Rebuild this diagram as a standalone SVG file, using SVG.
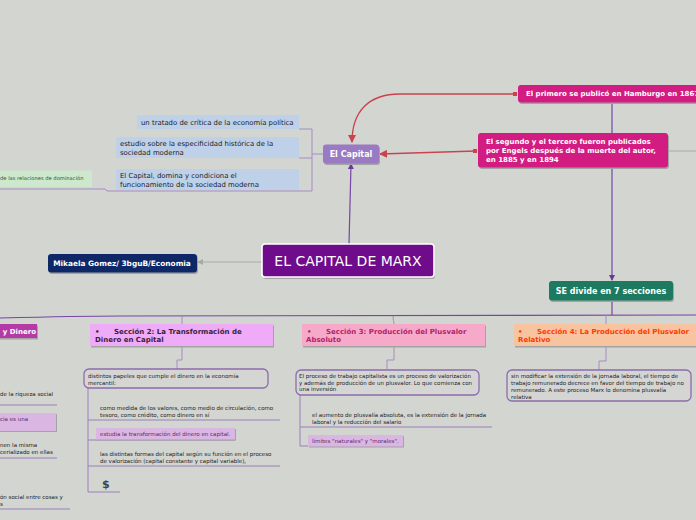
<svg xmlns="http://www.w3.org/2000/svg" width="696" height="520" viewBox="0 0 696 520">
<defs>
<marker id="arrP" markerWidth="6" markerHeight="6" refX="5" refY="3" orient="auto" markerUnits="userSpaceOnUse"><path d="M0,0 L6,3 L0,6 Z" fill="#6a3a98"/></marker>
<marker id="arrR" markerWidth="8" markerHeight="8" refX="7" refY="4" orient="auto" markerUnits="userSpaceOnUse"><path d="M0,0 L8,4 L0,8 Z" fill="#c9434f"/></marker>
<marker id="arrG" markerWidth="6" markerHeight="6" refX="5" refY="3" orient="auto" markerUnits="userSpaceOnUse"><path d="M0,0 L6,3 L0,6 Z" fill="#a9aaa8"/></marker>
</defs>
<style>
text{font-family:"DejaVu Sans","Liberation Sans",sans-serif}
.sh{fill:#a3a4a2}
.b{font-weight:bold}
.w{fill:#ffffff}
.t65{font-size:6.9px;fill:#1a1a1a}
.t55{font-size:5.5px;fill:#222222}
.blue{fill:#bfd1e8}
.lp{fill:#dab6e2}
.rb{fill:#d5d6d3;stroke:#8c6cad;stroke-width:1.3}
.con{fill:none;stroke:#7645a6;stroke-width:1.2}
.br{fill:none;stroke:#a58bc3;stroke-width:1}
.ul{fill:none;stroke:#9d7fbd;stroke-width:1}
.red{fill:none;stroke:#c9434f;stroke-width:1.3}
</style>
<rect width="696" height="520" fill="#d3d5d1"/>

<g id="connectors">
<path class="con" d="M349,244 L351,164" marker-end="url(#arrP)"/>
<path d="M262,262 L198,262" fill="none" stroke="#a9aaa8" stroke-width="1" marker-end="url(#arrG)"/>
<path class="red" d="M515,94 L400,94 C368,94 352,112 352,142" marker-end="url(#arrR)"/>
<rect x="513" y="92" width="4" height="4" fill="#c9434f"/>
<path class="red" d="M476,151 L380,154" marker-end="url(#arrR)"/>
<rect x="473" y="149" width="4" height="4" fill="#c9434f"/>
<path class="con" d="M612,102 L612,133"/>
<path class="con" d="M612,168 L612,280" marker-end="url(#arrP)"/>
<path d="M668,151 L696,151" fill="none" stroke="#a9aaa8" stroke-width="1"/>
<path class="br" d="M323,154 L312,154 M299,129 L312,129 L312,191 L107,191 L105,189 L0,189 M299,158 L312,158"/>
<path class="con" d="M612,301 L612,315"/>
<path class="con" d="M0,318 C40,317 80,316 120,316 L696,315"/>
<path class="br" d="M182,316 C182,319 182,322 182,324 M393,316 C393,319 394,322 394,324 M606,315 C606,319 606,322 606,324"/>
<path class="br" d="M182,346 L182,360 L177,360 L177,369"/>
<path class="br" d="M394,346 L394,360 L387,360 L387,369"/>
<path class="br" d="M606,346 L606,361 L599,361 L599,370"/>
<path class="ul" d="M88,388 L88,492 M88,420 L280,420 M88,440 L235,440 M88,466 L280,466 M88,492 L120,492"/>
<path class="ul" d="M300,395 L300,446 M300,427 L492,427 M300,446 L308,446"/>
<path class="ul" d="M0,405 L57,405 M0,458 L57,458 M0,509 L70,509"/>
</g>

<g id="main">
<rect x="263" y="246" width="172" height="33" rx="3" class="sh"/>
<rect x="262" y="244" width="172" height="33" rx="3" fill="#6f0c8b" stroke="#ffffff" stroke-width="1.6"/>
<text x="348" y="266" text-anchor="middle" font-size="14" class="w">EL CAPITAL DE MARX</text>
</g>

<g id="autor">
<rect x="49" y="255.5" width="149" height="18.5" rx="3" class="sh"/>
<rect x="48" y="254" width="149" height="18.5" rx="3" fill="#0e2767"/>
<text x="122" y="265.5" text-anchor="middle" font-size="7.4" class="b w">Mikaela Gomez/ 3bguB/Economia</text>
</g>

<g id="elcapital">
<rect x="324" y="146" width="56" height="19" rx="3" class="sh"/>
<rect x="323" y="144.5" width="56" height="19" rx="3" fill="#9a7ac2"/>
<text x="351" y="157" text-anchor="middle" font-size="8" class="b w">El Capital</text>
</g>

<g id="tratado">
<rect x="137" y="115" width="162" height="14" class="blue"/>
<text x="141" y="124.5" class="t65">un tratado de crítica de la economía política</text>
</g>
<g id="estudio">
<rect x="116" y="137" width="183" height="21" class="blue"/>
<text x="120" y="145.5" class="t65">estudio sobre la especificidad histórica de la</text>
<text x="120" y="154.5" class="t65">sociedad moderna</text>
</g>
<g id="domina">
<rect x="116" y="169" width="183" height="21" class="blue"/>
<text x="120" y="177.5" class="t65">El Capital, domina y condiciona el</text>
<text x="120" y="186.5" class="t65">funcionamiento de la sociedad moderna</text>
</g>
<g id="dominacion">
<rect x="0" y="170.5" width="92" height="16.5" fill="#cde8cc"/>
<text x="0" y="180" font-size="5.2" fill="#335533">de las relaciones de dominación</text>
</g>

<g id="hamburgo">
<rect x="519" y="86.5" width="180" height="17.5" rx="3" class="sh"/>
<rect x="518" y="85" width="180" height="17.5" rx="3" fill="#d21c82"/>
<text x="526" y="96" font-size="7" class="b w">El primero se publicó en Hamburgo en 1867</text>
</g>

<g id="engels">
<rect x="479" y="134.5" width="190" height="34.5" rx="3" class="sh"/>
<rect x="478" y="133" width="190" height="34.5" rx="3" fill="#d21c82"/>
<text x="486" y="144" font-size="7" class="b w">El segundo y el tercero fueron publicados</text>
<text x="486" y="153" font-size="7" class="b w">por Engels después de la muerte del autor,</text>
<text x="486" y="162" font-size="7" class="b w">en 1885 y en 1894</text>
</g>

<g id="secciones">
<rect x="550" y="282.5" width="124" height="19.5" rx="3" class="sh"/>
<rect x="549" y="281" width="124" height="19.5" rx="3" fill="#1b7a60"/>
<text x="611" y="294" text-anchor="middle" font-size="8" class="b w">SE divide en 7 secciones</text>
</g>

<g id="seccion1">
<rect x="0" y="325.5" width="38" height="14" class="sh"/>
<rect x="0" y="324" width="37" height="14" fill="#b43aa6"/>
<text x="36" y="334" text-anchor="end" font-size="7" class="b w">y Dinero</text>
</g>
<g id="s1-riqueza"><text x="0" y="396" class="t55">de la riqueza social</text></g>
<g id="s1-una">
<rect x="0" y="414" width="57" height="18" class="sh"/>
<rect x="0" y="413" width="56" height="18" class="lp"/>
<text x="0" y="421" font-size="5.5" fill="#5a2a6a">cia es una</text>
</g>
<g id="s1-misma">
<text x="0" y="447" class="t55">nen la misma</text>
<text x="0" y="454" class="t55">cerializado en ellas</text>
</g>
<g id="s1-social">
<text x="0" y="499" class="t55">ón social entre cosas y</text>
<text x="0" y="506" class="t55">s</text>
</g>

<g id="seccion2">
<rect x="91" y="325.5" width="183" height="22" class="sh"/>
<rect x="90" y="324" width="183" height="22" fill="#efaaf8"/>
<text x="95" y="334" font-size="7" class="b" fill="#3b1f3b">•</text>
<text x="114" y="334" font-size="7" class="b" fill="#3b1f3b">Sección 2: La Transformación de</text>
<text x="95" y="342" font-size="7" class="b" fill="#3b1f3b">Dinero en Capital</text>
</g>
<g id="s2-papeles">
<rect x="84" y="369" width="184" height="19" rx="5" class="rb"/>
<text x="88" y="378" class="t55">distintos papeles que cumple el dinero en la economía</text>
<text x="88" y="384.5" class="t55">mercantil:</text>
</g>
<g id="s2-medida">
<text x="100" y="410" class="t55">como medida de los valores, como medio de circulación, como</text>
<text x="100" y="416.5" class="t55">tesoro, como crédito, como dinero en sí</text>
</g>
<g id="s2-estudia">
<rect x="97" y="429" width="139" height="11.5" class="sh"/>
<rect x="96" y="428" width="139" height="11.5" class="lp"/>
<text x="100" y="436" font-size="5.5" fill="#5a2a6a">estudia la transformación del dinero en capital.</text>
</g>
<g id="s2-formas">
<text x="100" y="456" class="t55">las distintas formas del capital según su función en el proceso</text>
<text x="100" y="462.5" class="t55">de valorización (capital constante y capital variable),</text>
</g>
<g id="s2-dolar">
<text x="102" y="488" font-size="11" class="b" fill="#444444">$</text>
</g>

<g id="seccion3">
<rect x="303" y="325.5" width="183" height="22" class="sh"/>
<rect x="302" y="324" width="183" height="22" fill="#f7a9c9"/>
<text x="307" y="334" font-size="7" class="b" fill="#b0246a">•</text>
<text x="326" y="334" font-size="7" class="b" fill="#b0246a">Sección 3: Producción del Plusvalor</text>
<text x="306" y="342" font-size="7" class="b" fill="#b0246a">Absoluto</text>
</g>
<g id="s3-proceso">
<rect x="296" y="370" width="183" height="25" rx="5" class="rb"/>
<text x="299" y="378" class="t55">El proceso de trabajo capitalista es un proceso de valorización</text>
<text x="299" y="384.5" class="t55">y  además de producción de un plusvalor. Lo que comienza con</text>
<text x="299" y="391" class="t55">una inversión</text>
</g>
<g id="s3-aumento">
<text x="312" y="417" class="t55">el aumento de plusvalía absoluta, es la extensión de la jornada</text>
<text x="312" y="423.5" class="t55">laboral y la reducción del salario</text>
</g>
<g id="s3-limites">
<rect x="309" y="436" width="95" height="11.5" class="sh"/>
<rect x="308" y="435" width="95" height="11.5" class="lp"/>
<text x="312" y="443" font-size="5.5" fill="#5a2a6a">límites "naturales" y "morales".</text>
</g>

<g id="seccion4">
<rect x="515" y="325.5" width="183" height="22" class="sh"/>
<rect x="514" y="324" width="183" height="22" fill="#f8c39f"/>
<text x="518" y="334" font-size="7" class="b" fill="#ff3a00">•</text>
<text x="537" y="334" font-size="7" class="b" fill="#ff3a00">Sección 4: La Producción del Plusvalor</text>
<text x="518" y="342" font-size="7" class="b" fill="#ff3a00">Relativo</text>
</g>
<g id="s4-relativa">
<rect x="507" y="370" width="184" height="31" rx="5" class="rb"/>
<text x="511" y="378" class="t55">sin modificar la extensión de la jornada laboral, el tiempo de</text>
<text x="511" y="385" class="t55">trabajo remunerado decrece en favor del tiempo de trabajo no</text>
<text x="511" y="392" class="t55">remunerado. A este proceso Marx lo denomina plusvalía</text>
<text x="511" y="399" class="t55">relativa</text>
</g>
</svg>
